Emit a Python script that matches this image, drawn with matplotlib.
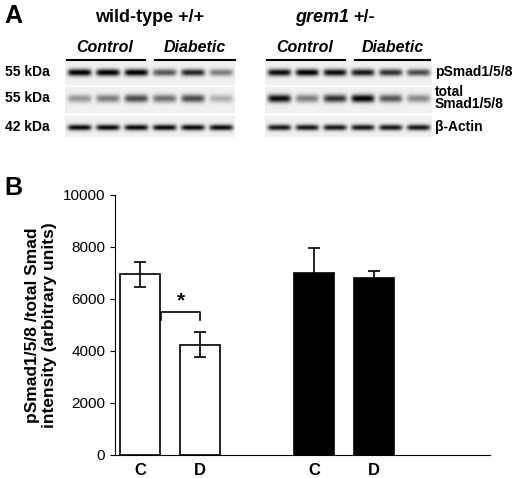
import numpy as np
import matplotlib
matplotlib.use("Agg")
import matplotlib.pyplot as plt

plt.rcParams['font.family'] = ['Liberation Sans', 'DejaVu Sans']

# bar data
labels = ["C", "D", "C", "D"]
values = [6950, 4250, 7000, 6800]
errors = [480, 480, 950, 270]
colors = ["white", "white", "black", "black"]
positions = [0, 1, 2.9, 3.9]

# band intensities (0..1) per row, 6 lanes per group
wt_psmad = [0.95, 0.95, 0.95, 0.6, 0.8, 0.45]
wt_total = [0.35, 0.45, 0.65, 0.5, 0.65, 0.25]
wt_actin = [0.9, 0.9, 0.9, 0.9, 0.9, 0.9]
gr_psmad = [0.9, 0.95, 0.9, 0.85, 0.75, 0.65]
gr_total = [0.9, 0.45, 0.75, 0.95, 0.6, 0.4]
gr_actin = [0.85, 0.85, 0.85, 0.85, 0.85, 0.85]

W, H = 520, 478
fig = plt.figure(figsize=(W / 100, H / 100), dpi=100)


def px(x, y):
    return x / W, 1 - y / H


def blot(rows, x0, x1):
    w = x1 - x0
    h = 77
    yy, xx = np.mgrid[0:h, 0:w]
    img = np.full((h, w), 0.06)
    centers = [12, 38, 67]
    widths = [3.5, 4.0, 3.0]
    lane = w / 6
    for r, row in enumerate(rows):
        for k, v in enumerate(row):
            cx = lane * (k + 0.5)
            band = np.exp(-((xx - cx) / (lane * 0.42)) ** 6) * np.exp(-((yy - centers[r]) / widths[r]) ** 2)
            img += v * band
    img[25:27, :] *= 0.2
    img[53:56, :] *= 0.2
    l, b = px(x0, 137)
    ax = fig.add_axes([l, b, w / W, h / H])
    ax.imshow(np.clip(img, 0, 1), cmap="gray_r", vmin=0, vmax=1, aspect="auto")
    ax.axis("off")


blot([wt_psmad, wt_total, wt_actin], 65, 235)
blot([gr_psmad, gr_total, gr_actin], 265, 432)

bold = dict(fontweight="bold")
fig.text(*px(4, 16), "A", fontsize=18, va="center", **bold)
fig.text(*px(4, 188), "B", fontsize=18, va="center", **bold)
fig.text(*px(150, 18), "wild-type +/+", fontsize=13, ha="center", va="center", **bold)
fig.text(*px(349, 18), "grem1", fontsize=13, style="italic", ha="right", va="center", **bold)
fig.text(*px(353, 18), "+/-", fontsize=13, ha="left", va="center", **bold)
for cx, lab, x0, x1 in [(105, "Control", 67, 145), (195, "Diabetic", 155, 235),
                        (305, "Control", 267, 345), (393, "Diabetic", 355, 430)]:
    fig.text(*px(cx, 48), lab, fontsize=11.5, style="italic", ha="center", va="center", **bold)
    fig.add_artist(plt.Line2D([x0 / W, x1 / W], [1 - 60 / H] * 2, color="black", lw=1.5))
for y, t in [(72, "55 kDa"), (98, "55 kDa"), (127, "42 kDa")]:
    fig.text(*px(5, y), t, fontsize=10, va="center", **bold)
fig.text(*px(435, 72), "pSmad1/5/8", fontsize=10, va="center", **bold)
fig.text(*px(435, 98), "total\nSmad1/5/8", fontsize=10, va="center", linespacing=0.9, **bold)
fig.text(*px(435, 127), "β-Actin", fontsize=10, va="center", **bold)

# bar chart
ax = fig.add_axes([115 / W, 1 - 455 / H, 375 / W, 260 / H])
ax.bar(positions, values, width=0.67, color=colors, edgecolor="black", linewidth=1.2,
       yerr=errors, error_kw=dict(ecolor="black", capsize=4, elinewidth=1.2, capthick=1.2),
       zorder=2)
ax.set_xlim(-0.42, 5.83)
ax.set_ylim(0, 10000)
ax.set_yticks(range(0, 10001, 2000))
ax.set_xticks(positions)
ax.set_xticklabels(labels, fontweight="bold", fontsize=12)
ax.tick_params(axis="x", length=0, pad=6)
ax.tick_params(axis="y", labelsize=11)
for s in ["top", "right"]:
    ax.spines[s].set_visible(False)
ax.set_ylabel("pSmad1/5/8 /total Smad\nintensity (arbitrary units)", fontsize=12.5, **bold)
# significance bracket
ax.plot([positions[0] + 0.35, positions[0] + 0.35, positions[1], positions[1]],
        [5200, 5500, 5500, 5200], color="black", lw=1.2)
ax.text((positions[0] + 0.35 + positions[1]) / 2, 5550, "*", ha="center", va="bottom",
        fontsize=15, **bold)

fig.savefig("out.png", dpi=100)
